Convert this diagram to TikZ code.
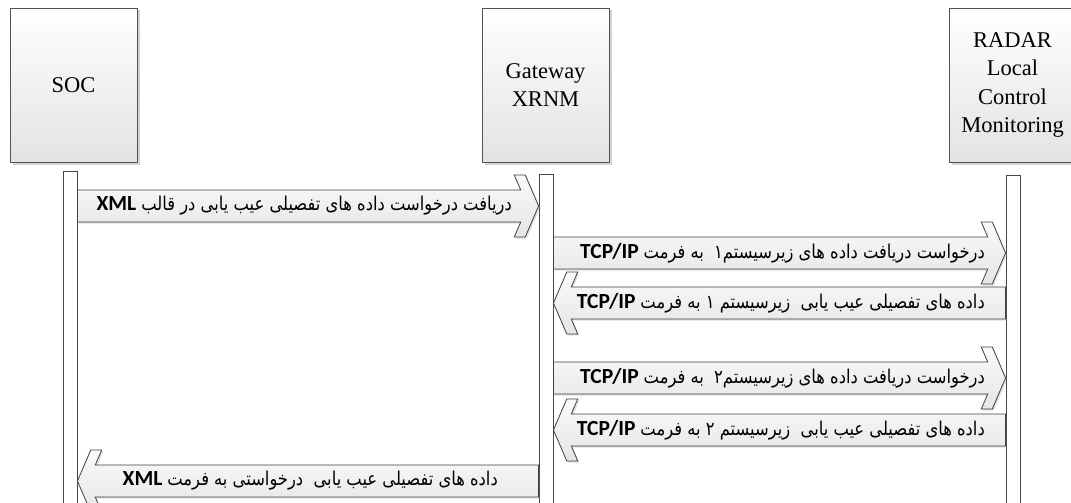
\documentclass[tikz,border=0pt]{standalone}
\usepackage{fontspec}
\setmainfont{Liberation Serif}
\newfontfamily\fa[Script=Arabic]{DejaVu Sans}
\newfontfamily\lat{Carlito}
\TeXXeTstate=1
\usetikzlibrary{calc,shadows}

\tikzset{
  actor/.style={draw=gray!65!black, line width=0.8pt, top color=white, bottom color=gray!22,
    drop shadow={shadow xshift=2.5pt, shadow yshift=-2.5pt, opacity=0.35},
    minimum width=127pt, minimum height=154pt, inner sep=0pt, align=center,
    font=\fontsize{22.5}{28.5}\selectfont},
  lifeline/.style={draw=gray!55!black, fill=white, line width=0.9pt, minimum width=14pt,
    inner sep=0pt, anchor=north},
  msg/.style={draw=gray!50!black, line width=0.8pt, top color=gray!4, bottom color=gray!20,
    drop shadow={shadow xshift=1.5pt, shadow yshift=-1.5pt, opacity=0.25}},
  msgtext/.style={font=\fontsize{19}{20}\selectfont, anchor=east, inner sep=0pt}
}
% Latin (bold) part shown on the left, Persian (RTL) part on the right
\newcommand\msgline[2]{{\lat\bfseries\fontsize{21.5}{22}\selectfont #1}\hspace{5pt}\scalebox{0.86}[1]{\hbox{\fa #2}}}

% #1 start anchor, #2 tip anchor, #3 y (px), #4 direction (1 right, -1 left)
\newcommand\msgarrow[4]{%
  \path[msg] let \p1=(#1), \p2=(#2), \p3=(0,#3) in
    (\x1,\y3+16pt) -- ({\x2-(#4)*17.8pt},\y3+16pt) -- ({\x2-(#4)*24.3pt},\y3+31pt)
    -- ({\x2-(#4)*13.3pt},\y3+31pt) -- (\x2,\y3) -- ({\x2-(#4)*13.3pt},\y3-31pt)
    -- ({\x2-(#4)*24.3pt},\y3-31pt) -- ({\x2-(#4)*17.8pt},\y3-16pt) -- (\x1,\y3-16pt) -- cycle;
}

\begin{document}
\begin{tikzpicture}[x=1pt,y=-1pt]
\useasboundingbox[fill=white] (0,0) rectangle (1071,503);

% actors
\node[actor] (soc) at (73.5,85) {SOC};
\node[actor] (gw) at (545.5,85) {Gateway\\XRNM};
\node[actor] (radar) at (1012.5,85) {RADAR\\Local\\Control\\Monitoring};

% lifelines
\node[lifeline, minimum height=345pt] (socbar) at (70,171) {};
\node[lifeline, minimum height=342pt] (gwbar) at (546,174) {};
\node[lifeline, minimum height=341pt] (radarbar) at (1013,175) {};

% messages
\msgarrow{socbar.east}{gwbar.west}{206}{1}
\msgarrow{gwbar.east}{radarbar.west}{253}{1}
\msgarrow{radarbar.west}{gwbar.east}{303}{-1}
\msgarrow{gwbar.east}{radarbar.west}{378}{1}
\msgarrow{radarbar.west}{gwbar.east}{430}{-1}
\msgarrow{gwbar.west}{socbar.east}{481}{-1}

% message texts
\node[msgtext] (t1) at (512,206) {\msgline{XML}{\beginR دریافت درخواست داده های تفصیلی عیب یابی در قالب\endR}};
\node[msgtext] (t2) at (985,253) {\msgline{TCP/IP}{\beginR درخواست دریافت داده های زیرسیستم۱\ \ به فرمت\endR}};
\node[msgtext] (t3) at (985,303) {\msgline{TCP/IP}{\beginR داده های تفصیلی عیب یابی\ \ زیرسیستم ۱ به فرمت\endR}};
\node[msgtext] (t4) at (985,378) {\msgline{TCP/IP}{\beginR درخواست دریافت داده های زیرسیستم۲\ \ به فرمت\endR}};
\node[msgtext] (t5) at (985,430) {\msgline{TCP/IP}{\beginR داده های تفصیلی عیب یابی\ \ زیرسیستم ۲ به فرمت\endR}};
\node[msgtext] (t6) at (498,481) {\msgline{XML}{\beginR داده های تفصیلی عیب یابی\ \ درخواستی به فرمت\endR}};
\end{tikzpicture}
\end{document}
